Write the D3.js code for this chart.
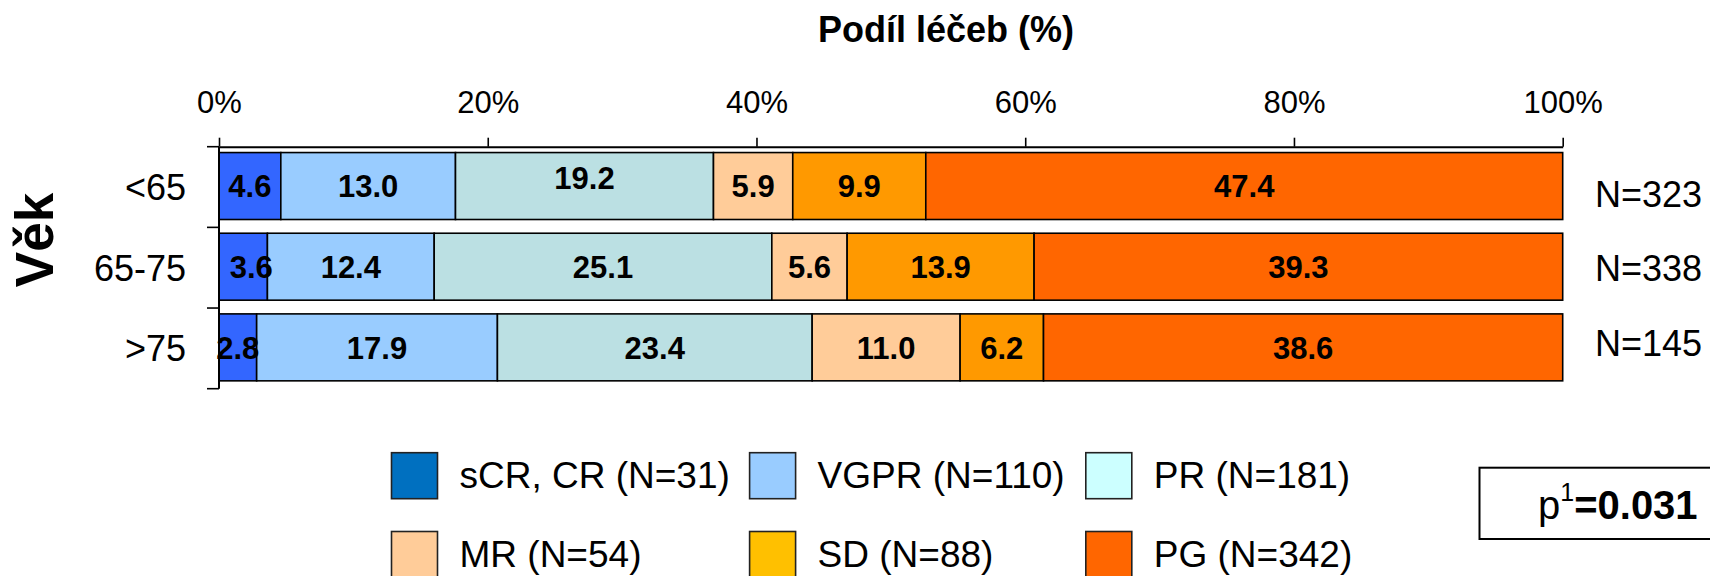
<!DOCTYPE html>
<html>
<head>
<meta charset="utf-8">
<script src="https://cdn.jsdelivr.net/npm/d3@7"></script>
<style>
  html, body { margin: 0; padding: 0; background: #fff; }
  svg { display: block; font-family: "Liberation Sans", Arial, Helvetica, sans-serif; }
</style>
</head>
<body>
<svg id="chart" width="1710" height="576"></svg>
<script>
// Age groups and their totals
const ageGroups = ["<65", "65-75", ">75"];
const groupTotals = ["N=323", "N=338", "N=145"];

// Response categories with their overall counts
const responseKeys = ["sCR, CR", "VGPR", "PR", "MR", "SD", "PG"];
const responseCounts = [31, 110, 181, 54, 88, 342];

// Share of treatments (%) per age group, in the order of responseKeys
const shareLt65   = [4.6, 13.0, 19.2, 5.9, 9.9, 47.4];
const share65to75 = [3.6, 12.4, 25.1, 5.6, 13.9, 39.3];
const shareGt75   = [2.8, 17.9, 23.4, 11.0, 6.2, 38.6];

const xTickValues = [0, 0.2, 0.4, 0.6, 0.8, 1];
const pValue = "0.031";

// Styling
const barColors    = ["#3366FF", "#99CCFF", "#BBE0E3", "#FFCC99", "#FF9900", "#FF6600"];
const legendColors = ["#0070C0", "#99CCFF", "#CCFFFF", "#FFCC99", "#FFC000", "#FF6600"];
const font = '"Liberation Sans", Arial, Helvetica, sans-serif';

// Hand-placed label nudges (row|series -> offset in px)
const labelNudge = { "<65|2": { dx: 0, dy: -8 }, "65-75|0": { dx: 8, dy: 0 } };
const totalNudge = [7, 0, -5];

const svg = d3.select("#chart");

// Table for the stack
const shares = [shareLt65, share65to75, shareGt75];
const rows = ageGroups.map((g, i) => {
  const r = { group: g };
  responseKeys.forEach((k, j) => { r[k] = shares[i][j]; });
  return r;
});

const series = d3.stack()
  .keys(responseKeys)
  .offset(d3.stackOffsetExpand)(rows);

// Scales
const x = d3.scaleLinear().domain([0, 1]).range([219, 1562.7]);
const y = d3.scaleBand()
  .domain(ageGroups)
  .range([146.7, 388.7])
  .paddingInner(0.17)
  .paddingOuter(0.085);
const barShift = -1;

// Bars
const layers = svg.append("g").selectAll("g")
  .data(series)
  .join("g")
  .attr("fill", (d, i) => barColors[i]);

layers.selectAll("rect")
  .data(d => d.map(p => ({ p, key: d.key })))
  .join("rect")
  .attr("x", d => x(d.p[0]))
  .attr("y", d => y(d.p.data.group) + barShift)
  .attr("width", d => x(d.p[1]) - x(d.p[0]))
  .attr("height", y.bandwidth())
  .attr("stroke", "#000")
  .attr("stroke-width", 1.6);

// Value labels
const labelData = [];
series.forEach((s, si) => {
  s.forEach(p => {
    const g = p.data.group;
    const nudge = labelNudge[g + "|" + si] || { dx: 0, dy: 0 };
    labelData.push({
      text: p.data[s.key].toFixed(1),
      cx: (x(p[0]) + x(p[1])) / 2 + nudge.dx,
      cy: y(g) + barShift + y.bandwidth() / 2 + nudge.dy
    });
  });
});

svg.append("g").selectAll("text")
  .data(labelData)
  .join("text")
  .attr("x", d => d.cx)
  .attr("y", d => d.cy)
  .attr("dy", "0.36em")
  .attr("text-anchor", "middle")
  .attr("font-size", 31)
  .attr("font-weight", "bold")
  .attr("fill", "#000")
  .text(d => d.text);

// Top axis
const xAxis = svg.append("g")
  .attr("transform", `translate(0,${y.range()[0]})`)
  .call(d3.axisTop(x)
    .tickValues(xTickValues)
    .tickFormat(d3.format(".0%"))
    .tickSize(9)
    .tickSizeOuter(0)
    .tickPadding(25));
xAxis.select(".domain").attr("stroke", "#000").attr("stroke-width", 2);
xAxis.selectAll(".tick line").attr("stroke", "#000").attr("stroke-width", 1.6);
xAxis.selectAll(".tick text")
  .attr("font-family", font)
  .attr("font-size", 31)
  .attr("fill", "#000");

// Left axis: spine and ticks at band boundaries
const yAxis = svg.append("g");
yAxis.append("line")
  .attr("x1", x(0)).attr("x2", x(0))
  .attr("y1", y.range()[0]).attr("y2", y.range()[1])
  .attr("stroke", "#000").attr("stroke-width", 2);
yAxis.selectAll("line.tick")
  .data(d3.range(ageGroups.length + 1))
  .join("line")
  .attr("class", "tick")
  .attr("x1", x(0) - 12).attr("x2", x(0))
  .attr("y1", i => y.range()[0] + i * y.step())
  .attr("y2", i => y.range()[0] + i * y.step())
  .attr("stroke", "#000").attr("stroke-width", 1.6);

// Category labels
svg.append("g").selectAll("text")
  .data(ageGroups)
  .join("text")
  .attr("x", 186)
  .attr("y", d => y(d) + y.bandwidth() / 2)
  .attr("dy", "0.36em")
  .attr("text-anchor", "end")
  .attr("font-size", 36)
  .attr("fill", "#000")
  .text(d => d);

// Group totals on the right
svg.append("g").selectAll("text")
  .data(groupTotals)
  .join("text")
  .attr("x", 1595)
  .attr("y", (d, i) => y(ageGroups[i]) + y.bandwidth() / 2 + totalNudge[i])
  .attr("dy", "0.36em")
  .attr("font-size", 36)
  .attr("fill", "#000")
  .text(d => d);

// Axis titles
svg.append("text")
  .attr("x", 946)
  .attr("y", 41.7)
  .attr("text-anchor", "middle")
  .attr("font-size", 36)
  .attr("font-weight", "bold")
  .attr("fill", "#000")
  .text("Podíl léčeb (%)");

svg.append("text")
  .attr("transform", "translate(53.3,240) rotate(-90)")
  .attr("text-anchor", "middle")
  .attr("font-size", 53)
  .attr("font-weight", "bold")
  .attr("fill", "#000")
  .text("Věk");

// Legend
const legendCols = [391.5, 749.6, 1085.8];
const legendRows = [452.7, 531.5];
const swatch = 46;
const legend = svg.append("g").selectAll("g")
  .data(responseKeys)
  .join("g")
  .attr("transform", (d, i) => `translate(${legendCols[i % 3]},${legendRows[Math.floor(i / 3)]})`);

legend.append("rect")
  .attr("width", swatch)
  .attr("height", swatch)
  .attr("fill", (d, i) => legendColors[i])
  .attr("stroke", "#222")
  .attr("stroke-width", 1.6);

legend.append("text")
  .attr("x", swatch + 22)
  .attr("y", swatch / 2)
  .attr("dy", "0.34em")
  .attr("font-size", 37)
  .attr("fill", "#000")
  .text((d, i) => `${d} (N=${responseCounts[i]})`);

// p-value box
const pBox = svg.append("g");
pBox.append("rect")
  .attr("x", 1479.5)
  .attr("y", 467.7)
  .attr("width", 260)
  .attr("height", 71.3)
  .attr("fill", "#fff")
  .attr("stroke", "#000")
  .attr("stroke-width", 2);

const pText = pBox.append("text")
  .attr("x", 1538)
  .attr("y", 519.3)
  .attr("font-size", 40)
  .attr("fill", "#000");
pText.append("tspan").text("p");
pText.append("tspan").attr("font-size", 25).attr("dy", -18).text("1");
pText.append("tspan").attr("dy", 18).attr("font-weight", "bold").text("=" + pValue);
</script>
</body>
</html>
